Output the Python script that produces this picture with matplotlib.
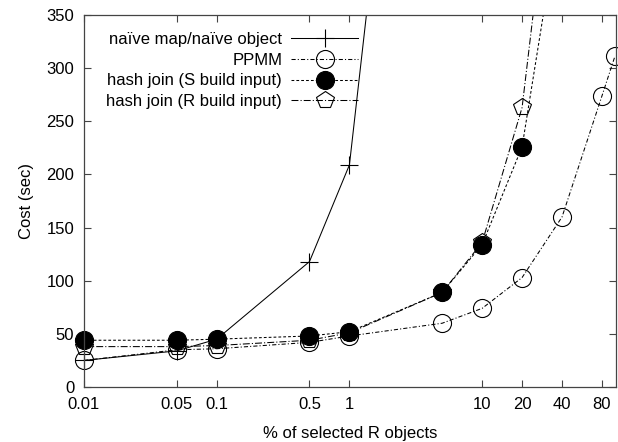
import numpy as np
import matplotlib
matplotlib.use("Agg")
import matplotlib.pyplot as plt
from matplotlib.patches import Rectangle

plt.rcParams['font.family'] = ['Liberation Sans', 'DejaVu Sans']
plt.rcParams['font.size'] = 12
plt.rcParams['lines.scale_dashes'] = False

# % of selected R objects
x_all = [0.01, 0.05, 0.1, 0.5, 1, 5, 10, 20, 40, 80, 100]

naive = [25, 34, 45, 118, 209, 980]
ppmm = [25, 35, 36, 42, 48, 60, 74, 103, 160, 274, 311]
hash_s = [44, 44, 45, 48, 52, 89, 134, 226, 460]
hash_r = [38, 38, 39, 44, 51, 89, 136, 263, 580]

xtick_vals = [0.01, 0.05, 0.1, 0.5, 1, 10, 20, 40, 80]
xtick_labels = ['0.01', '0.05', '0.1', '0.5', '1', '10', '20', '40', '80']
ytick_vals = [0, 50, 100, 150, 200, 250, 300, 350]

fig = plt.figure(figsize=(6.18, 4.42), dpi=100)
ax = fig.add_axes([84 / 618, 55 / 442, 532 / 618, 372 / 442])

lw = 0.75
series = [
    (naive, 'naïve map/naïve object', dict(marker='+', linestyle='-', mfc='none')),
    (ppmm, 'PPMM', dict(marker='o', dashes=(3, 1.5, 0.8, 1.5), mfc='none')),
    (hash_s, 'hash join (S build input)', dict(marker='o', dashes=(2, 1.5), mfc='black')),
    (hash_r, 'hash join (R build input)', dict(marker='p', dashes=(5, 1.5, 0.8, 1.5), mfc='none')),
]

# clip lines at top/bottom of the axes but let edge markers show fully
clip = Rectangle((-0.05, 0), 1.1, 1, transform=ax.transAxes)
for vals, label, style in series:
    line, = ax.plot(x_all[:len(vals)], vals, color='black', lw=lw, ms=13,
                    mec='black', mew=0.8, label=label, **style)
    line.set_clip_path(clip)

ax.set_xscale('log')
ax.set_xlim(0.01, 102)
ax.set_ylim(0, 350)
ax.set_xticks(xtick_vals)
ax.set_xticklabels(xtick_labels)
ax.minorticks_off()
ax.set_yticks(ytick_vals)
ax.tick_params(direction='in', length=5, width=0.8, color='#444444',
               top=True, right=True, pad=7)
for sp in ax.spines.values():
    sp.set_color('#444444')
    sp.set_linewidth(0.9)

ax.set_xlabel('% of selected R objects', labelpad=10)
ax.set_ylabel('Cost (sec)', labelpad=9)

leg = ax.legend(loc='upper right', bbox_to_anchor=(0.515, 0.955),
                markerfirst=False, frameon=False, handlelength=4.0,
                handletextpad=0.55, labelspacing=0.35, borderaxespad=0,
                borderpad=0)

fig.savefig('out.png', dpi=100)
